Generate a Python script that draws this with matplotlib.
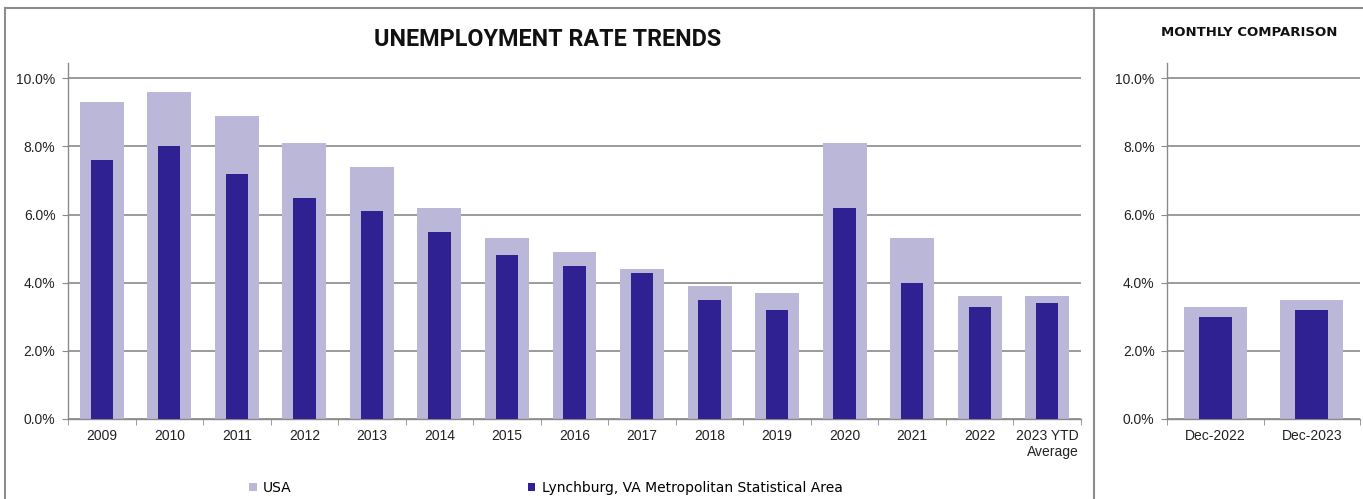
import matplotlib.pyplot as plt
from matplotlib.lines import Line2D
from matplotlib.ticker import PercentFormatter, FixedLocator

# data (percent)
years = ["2009", "2010", "2011", "2012", "2013", "2014", "2015", "2016",
         "2017", "2018", "2019", "2020", "2021", "2022", "2023 YTD\nAverage"]
usa = [9.3, 9.6, 8.9, 8.1, 7.4, 6.2, 5.3, 4.9, 4.4, 3.9, 3.7, 8.1, 5.3, 3.6, 3.6]
lynchburg = [7.6, 8.0, 7.2, 6.5, 6.1, 5.5, 4.8, 4.5, 4.3, 3.5, 3.2, 6.2, 4.0, 3.3, 3.4]

months = ["Dec-2022", "Dec-2023"]
usa_month = [3.3, 3.5]
lynchburg_month = [3.0, 3.2]

LIGHT = "#bab7d9"
DARK = "#2f2191"
GRID = "#8a8a8a"
W, H = 1363, 499

plt.rcParams['font.family'] = ['Liberation Sans', 'DejaVu Sans']

fig = plt.figure(figsize=(W / 100, H / 100), dpi=100)


def px_axes(x0, x1, ytop, ybot):
    return fig.add_axes([x0 / W, (H - ybot) / H, (x1 - x0) / W, (ybot - ytop) / H])


def style(ax, labels):
    ax.set_ylim(0, 10.45)
    ax.set_xlim(-0.5, len(labels) - 0.5)
    ax.set_yticks([0, 2, 4, 6, 8, 10])
    ax.yaxis.set_major_formatter(PercentFormatter(decimals=1))
    ax.set_xticks(range(len(labels)))
    ax.set_xticklabels(labels)
    ax.xaxis.set_minor_locator(FixedLocator([i + 0.5 for i in range(-1, len(labels))]))
    ax.tick_params(axis="x", which="major", length=0, pad=7, labelsize=10, colors="#222222")
    ax.tick_params(axis="x", which="minor", length=4, color=GRID)
    ax.tick_params(axis="y", length=4, color=GRID, pad=5, labelsize=10, labelcolor="#222222")
    ax.grid(axis="y", color=GRID, lw=1.2)
    ax.set_axisbelow(True)
    for s in ["top", "right"]:
        ax.spines[s].set_visible(False)
    for s in ["left", "bottom"]:
        ax.spines[s].set_color(GRID)
        ax.spines[s].set_linewidth(1.0)


# main trend chart
ax = px_axes(68, 1081, 63, 419)
x = range(len(years))
b1 = ax.bar(x, usa, width=0.65, color=LIGHT, label="USA", zorder=2)
b2 = ax.bar(x, lynchburg, width=0.33, color=DARK,
            label="Lynchburg, VA Metropolitan Statistical Area", zorder=3)
style(ax, years)
ax.get_xticklabels()[-1].set_multialignment("right")

# monthly comparison
ax2 = px_axes(1167, 1360, 63, 419)
xm = range(len(months))
ax2.bar(xm, usa_month, width=0.65, color=LIGHT, zorder=2)
ax2.bar(xm, lynchburg_month, width=0.34, color=DARK, zorder=3)
style(ax2, months)

# titles
fig.text(548 / W, 1 - 39 / H, "UNEMPLOYMENT RATE TRENDS", ha="center", va="center",
         fontsize=16.8, fontweight="bold", family=["Roboto", "DejaVu Sans"],
         color="#111111")
fig.text(1249 / W, 1 - 32 / H, "MONTHLY COMPARISON", ha="center", va="center",
         fontsize=9.5, fontweight="bold", family=["DejaVu Sans"], color="#111111")

# legend
fig.legend(handles=[b1, b2], loc="center left", bbox_to_anchor=(249 / W, 11 / H),
           ncol=2, frameon=False, handlelength=0.55, handleheight=0.55,
           prop={"family": "DejaVu Sans", "size": 10},
           handletextpad=0.45, columnspacing=17.0, borderpad=0, borderaxespad=0)

# frame lines around the panels
for xs, ys in [((5, W), (8, 8)), ((5, 5), (8, H)), ((1094, 1094), (8, H))]:
    fig.add_artist(Line2D([v / W for v in xs], [1 - v / H for v in ys],
                          color="#8c8c8c", lw=1.5))

fig.savefig("out.png", dpi=100)
